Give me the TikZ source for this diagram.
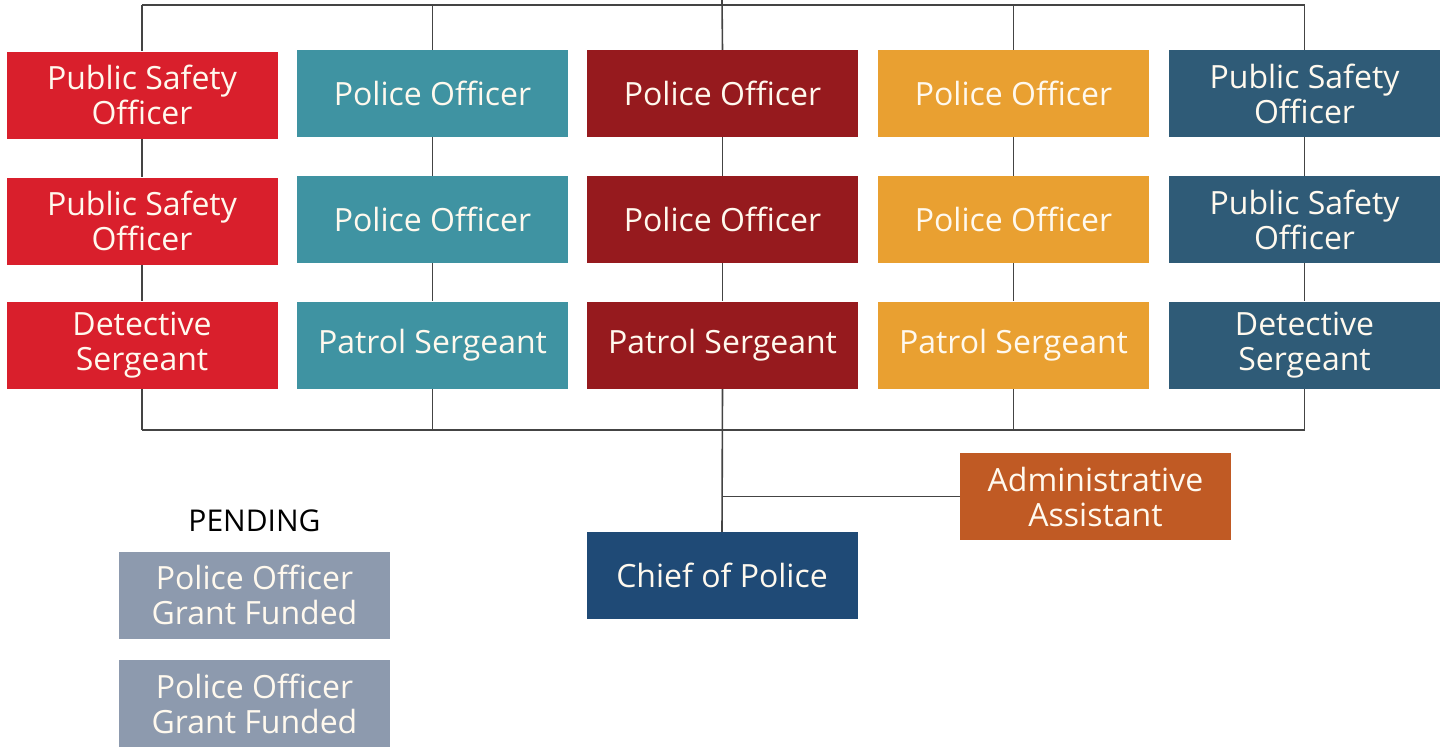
\documentclass[tikz,border=0pt]{standalone}
\usepackage{fontspec}
\setmainfont{Open Sans}
\usetikzlibrary{backgrounds}
\definecolor{cred}{HTML}{D91F2C}
\definecolor{cteal}{HTML}{3F93A2}
\definecolor{cdred}{HTML}{961A1E}
\definecolor{corange}{HTML}{E9A031}
\definecolor{cslate}{HTML}{2F5B77}
\definecolor{cchief}{HTML}{1F4A76}
\definecolor{cadmin}{HTML}{C05A24}
\definecolor{cgray}{HTML}{8D9AAE}
\definecolor{ctext}{HTML}{FFF9EE}
\definecolor{cline}{HTML}{444444}
\begin{document}
\begin{tikzpicture}[x=1pt,y=-1pt,
  box/.style={rectangle, inner sep=0pt, minimum width=271pt, minimum height=87pt,
    align=center, text=ctext, font=\fontsize{32}{35}\selectfont},
  conn/.style={draw=cline, line width=1.6pt}]
\useasboundingbox (0,0) rectangle (1442,747);
% column 1
\node[box, fill=cred] (a1) at (142,95) {Public Safety\\Officer};
\node[box, fill=cred] (a2) at (142,221) {Public Safety\\Officer};
\node[box, fill=cred] (a3) at (142,345) {Detective\\Sergeant};
% column 2
\node[box, fill=cteal] (b1) at (432.5,93.5) {Police Officer};
\node[box, fill=cteal] (b2) at (432.5,219.5) {Police Officer};
\node[box, fill=cteal] (b3) at (432.5,345) {Patrol Sergeant};
% column 3
\node[box, fill=cdred] (c1) at (722.5,93.5) {Police Officer};
\node[box, fill=cdred] (c2) at (722.5,219.5) {Police Officer};
\node[box, fill=cdred] (c3) at (722.5,345) {Patrol Sergeant};
% column 4
\node[box, fill=corange] (d1) at (1013.5,93.5) {Police Officer};
\node[box, fill=corange] (d2) at (1013.5,219.5) {Police Officer};
\node[box, fill=corange] (d3) at (1013.5,345) {Patrol Sergeant};
% column 5
\node[box, fill=cslate] (e1) at (1304.5,93.5) {Public Safety\\Officer};
\node[box, fill=cslate] (e2) at (1304.5,219.5) {Public Safety\\Officer};
\node[box, fill=cslate] (e3) at (1304.5,345) {Detective\\Sergeant};
% lower
\node[box, fill=cchief] (chief) at (722,575.5) {Chief of Police};
\node[box, fill=cadmin] (admin) at (1095.5,496.5) {Administrative\\Assistant};
\node[font=\fontsize{30}{34}\selectfont, text=black] (pend) at (254.5,521) {PENDING};
\node[box, fill=cgray] (g1) at (254.5,595) {Police Officer\\Grant Funded};
\node[box, fill=cgray] (g2) at (254.5,703.5) {Police Officer\\Grant Funded};
% coordinates
\coordinate (top) at (722,5);
\coordinate (topend) at (722,0);
\coordinate (bot) at (722,430);
% connectors
\begin{scope}[on background layer]
\draw[conn] (a1.north |- top) -- (e1.north |- top);
\draw[conn] (a3.south |- bot) -- (e3.south |- bot);
\draw[conn] (topend) -- (c1.north);
\foreach \n in {a,b,d,e}{
  \draw[conn] (\n1.north |- top) -- (\n1.north);
}
\foreach \n in {a,b,c,d,e}{
  \draw[conn] (\n1) -- (\n2);
  \draw[conn] (\n2) -- (\n3);
}
\foreach \n in {a,b,d,e}{
  \draw[conn] (\n3.south) -- (\n3.south |- bot);
}
\draw[conn] (c3.south) -- (chief.north);
\draw[conn] (chief.north |- admin.west) -- (admin.west);
\end{scope}
\end{tikzpicture}
\end{document}
